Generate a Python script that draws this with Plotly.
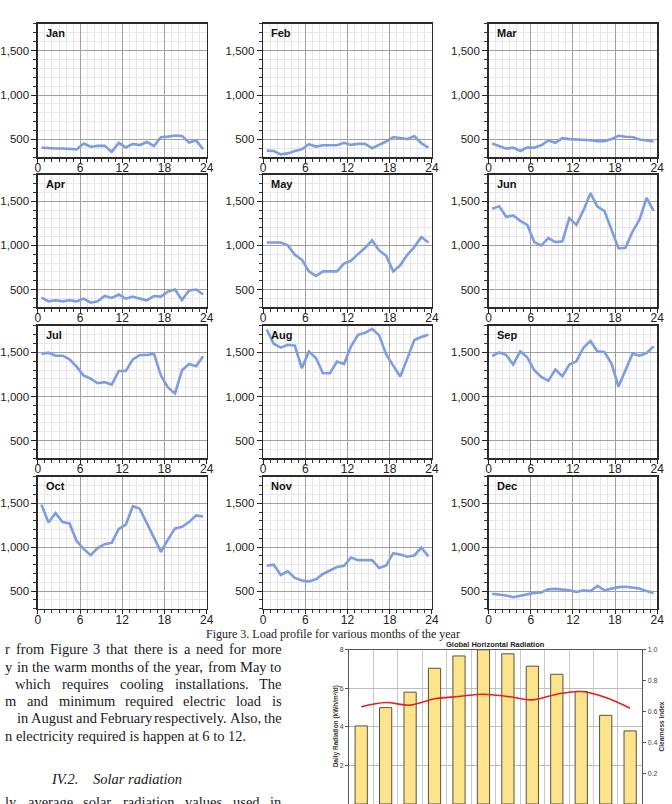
import plotly.graph_objects as go

# ---------------- data ----------------
months = ["Jan", "Feb", "Mar", "Apr", "May", "Jun", "Jul", "Aug", "Sep", "Oct", "Nov", "Dec"]
hours = [h + 0.5 for h in range(24)]

load_jan = [408, 400, 398, 398, 390, 388, 455, 418, 428, 428, 360, 462, 410, 450, 437, 472, 425, 525, 532, 545, 540, 465, 490, 390]
load_feb = [374, 370, 332, 343, 370, 389, 447, 420, 435, 435, 435, 462, 439, 450, 450, 401, 439, 477, 527, 515, 504, 538, 458, 408]
load_mar = [454, 424, 397, 408, 370, 408, 408, 435, 489, 462, 515, 504, 500, 504, 492, 481, 481, 504, 542, 531, 527, 500, 489, 477]
load_apr = [408, 366, 378, 366, 378, 366, 397, 351, 366, 427, 405, 443, 397, 420, 397, 378, 427, 420, 477, 500, 382, 489, 500, 443]
load_may = [1034, 1034, 1034, 1000, 893, 840, 706, 653, 706, 706, 706, 794, 828, 901, 973, 1057, 943, 882, 706, 775, 893, 981, 1095, 1034]
load_jun = [1416, 1443, 1324, 1340, 1279, 1233, 1038, 1000, 1084, 1038, 1046, 1309, 1233, 1397, 1592, 1439, 1389, 1179, 966, 974, 1157, 1294, 1538, 1393]
load_jul = [1481, 1496, 1462, 1462, 1421, 1338, 1237, 1203, 1150, 1162, 1135, 1289, 1289, 1421, 1470, 1470, 1485, 1237, 1102, 1034, 1297, 1368, 1342, 1455]
load_aug = [1759, 1598, 1553, 1586, 1575, 1320, 1511, 1436, 1263, 1263, 1395, 1368, 1568, 1699, 1722, 1767, 1692, 1477, 1350, 1226, 1429, 1639, 1673, 1699]
load_sep = [1459, 1500, 1470, 1361, 1511, 1444, 1297, 1222, 1177, 1305, 1229, 1361, 1398, 1553, 1628, 1511, 1504, 1372, 1113, 1297, 1485, 1462, 1492, 1568]
load_oct = [1485, 1282, 1387, 1286, 1271, 1071, 981, 910, 989, 1034, 1049, 1207, 1256, 1466, 1436, 1278, 1105, 947, 1086, 1214, 1233, 1286, 1361, 1350]
load_nov = [789, 801, 684, 726, 650, 620, 609, 635, 695, 733, 774, 789, 883, 853, 853, 853, 763, 793, 932, 917, 891, 906, 996, 895]
load_dec = [470, 460, 450, 430, 445, 460, 480, 485, 520, 525, 520, 510, 490, 510, 500, 560, 510, 530, 545, 550, 540, 530, 500, 480]
loads = [load_jan, load_feb, load_mar, load_apr, load_may, load_jun,
         load_jul, load_aug, load_sep, load_oct, load_nov, load_dec]

x_ticks = [0, 6, 12, 18, 24]
y_ticks = [500, 1000, 1500]

month_idx = list(range(1, 13))
radiation = [4.05, 5.0, 5.8, 7.04, 7.68, 8.0, 7.79, 7.15, 6.73, 5.84, 4.6, 3.79]
clearness = [0.630, 0.658, 0.641, 0.682, 0.697, 0.712, 0.697, 0.675, 0.712, 0.729, 0.690, 0.621]
rad_ticks = [0, 2, 4, 6, 8]
ci_ticks = [0, 0.2, 0.4, 0.6, 0.8, 1.0]

caption = "Figure 3. Load profile for various months of the year"
body_lines = [
    ("r from Figure 3 that there is a need for more", 0, 281, 648.5, True),
    ("y in the warm months of the year, from May to", 0, 281, 666, True),
    ("which requires cooling installations. The", 10, 281, 683.3, True),
    ("m and minimum required electric load is", 0, 281, 700.7, True),
    ("in August and February respectively. Also, the", 12, 281, 718, True),
    ("n electricity required is happen at 6 to 12.", 0, 281, 735.3, False),
    ("ly average solar radiation values used in", 0, 281, 802, True),
]

# ---------------- layout helpers ----------------
W, H = 672, 804
def px(x):
    return x / W
def py(y):
    return 1 - y / H

cols = [(34.5, 206), (263.5, 435), (492.7, 664)]
rows = [(20, 154), (171.7, 304.7), (323.5, 456.5), (475.3, 607.7)]

SANS = "Liberation Sans, Arial, sans-serif"
SERIF = "Liberation Serif, Times New Roman, serif"

fig = go.Figure()
layout = dict(width=W, height=H, margin=dict(l=0, r=0, t=0, b=0),
              paper_bgcolor="white", plot_bgcolor="white", showlegend=False)
annotations = []

for i, m in enumerate(months):
    n = i + 1
    sx = "" if n == 1 else str(n)
    fig.add_trace(go.Scatter(x=hours, y=loads[i], mode="lines",
                             line=dict(color="#7d9de3", width=2.6),
                             xaxis="x" + sx, yaxis="y" + sx, hoverinfo="skip"))
    c = cols[i % 3]
    r = rows[i // 3]
    layout["xaxis" + sx] = dict(
        domain=[px(c[0]), px(c[1])], range=[0, 24], anchor="y" + sx,
        tickvals=x_ticks, ticks="outside", ticklen=4, tickcolor="#222", tickwidth=1,
        ticklabelstandoff=-5,
        showline=True, linecolor="#2a2a2a", linewidth=1.5, mirror=True,
        showgrid=True, gridcolor="#a0a0a0", gridwidth=1, zeroline=False,
        minor=dict(dtick=1, showgrid=True, gridcolor="#e6e6ec", ticks="outside",
                   ticklen=3, tickcolor="#333"),
        tickfont=dict(family=SANS, size=12, color="#222"), fixedrange=True)
    layout["yaxis" + sx] = dict(
        domain=[py(r[1]), py(r[0])], range=[300, 1800], anchor="x" + sx,
        tickvals=y_ticks, tickformat=",", ticks="outside", ticklen=5, tickcolor="#222",
        showline=True, linecolor="#2a2a2a", linewidth=1.5, mirror=True,
        showgrid=True, gridcolor="#a0a0a0", gridwidth=1, zeroline=False,
        minor=dict(dtick=100, tick0=0, showgrid=True, gridcolor="#e6e6ec", ticks="outside",
                   ticklen=3, tickcolor="#333"),
        tickfont=dict(family=SANS, size=11.5, color="#222"), fixedrange=True)
    annotations.append(dict(text="<b>" + m + "</b>", xref="x" + sx + " domain", yref="y" + sx + " domain",
                            x=0.035, y=0.99, xanchor="left", yanchor="top", showarrow=False,
                            font=dict(family=SANS, size=11, color="#111")))

# ---------------- bar chart ----------------
fig.add_trace(go.Bar(x=month_idx, y=radiation, width=0.5, xaxis="x13", yaxis="y13",
                     marker=dict(color="#fde48c", line=dict(color="#5a5236", width=1)),
                     hoverinfo="skip"))
fig.add_trace(go.Scatter(x=month_idx, y=clearness, mode="lines", xaxis="x13", yaxis="y14",
                         line=dict(color="#e3201b", width=1.6, shape="spline"), hoverinfo="skip"))
bx0, bx1, by0, by1 = 350.7, 649, 649, 804
layout["xaxis13"] = dict(domain=[px(bx0), px(bx1)], range=[0.5, 12.5], anchor="y13",
                         tickvals=[k + 0.5 for k in month_idx[:-1]], showticklabels=False, ticks="",
                         showgrid=True, gridcolor="#c9c9c9", gridwidth=1, zeroline=False,
                         showline=True, linecolor="#555", linewidth=1, mirror=True, fixedrange=True)
layout["yaxis13"] = dict(domain=[py(by1), py(by0)], range=[0, 8], anchor="x13",
                         tickvals=rad_ticks, ticks="outside", ticklen=3, tickcolor="#555",
                         showgrid=True, gridcolor="#bdbdbd", gridwidth=1, zeroline=False,
                         showline=True, linecolor="#555", linewidth=1, mirror=True,
                         tickfont=dict(family=SANS, size=7, color="#444"), fixedrange=True)
layout["yaxis14"] = dict(overlaying="y13", side="right", range=[0, 1], anchor="x13",
                         tickvals=ci_ticks, tickformat=".1f", ticks="outside", ticklen=3,
                         tickcolor="#555", showgrid=False, zeroline=False,
                         showline=True, linecolor="#555", linewidth=1,
                         tickfont=dict(family=SANS, size=7, color="#444"), fixedrange=True)
layout["bargap"] = 0.5

annotations.append(dict(text="<b>Global Horizontal Radiation</b>", xref="paper", yref="paper",
                        x=px((bx0 + bx1) / 2), y=py(644), xanchor="center", yanchor="middle",
                        showarrow=False, font=dict(family=SANS, size=7.5, color="#222")))
annotations.append(dict(text="<b>Daily Radiation (kWh/m²/d)</b>", xref="paper", yref="paper",
                        x=px(337.5), y=py(726), xanchor="center", yanchor="middle", textangle=-90,
                        showarrow=False, font=dict(family=SANS, size=6.5, color="#333")))
annotations.append(dict(text="<b>Clearness Index</b>", xref="paper", yref="paper",
                        x=px(668), y=py(726), xanchor="center", yanchor="middle", textangle=-90,
                        showarrow=False, font=dict(family=SANS, size=6.5, color="#333")))

# ---------------- page text ----------------
annotations.append(dict(text=caption, xref="paper", yref="paper", x=px(334), y=py(633),
                        xanchor="center", yanchor="middle", showarrow=False,
                        font=dict(family=SERIF, size=12, color="#222")))

TW = {" ": 250, "a": 444, "b": 500, "c": 444, "d": 500, "e": 444, "f": 333, "g": 500, "h": 500,
      "i": 278, "j": 278, "k": 500, "l": 278, "m": 778, "n": 500, "o": 500, "p": 500, "q": 500,
      "r": 333, "s": 389, "t": 278, "u": 500, "v": 500, "w": 722, "x": 500, "y": 500, "z": 444,
      "A": 722, "F": 556, "M": 889, "T": 611, ".": 250, ",": 250}
def tw(s, size):
    return sum(TW.get(ch, 500) for ch in s) * size / 1000.0

BODY = 14.5
for text, L, R, yc, just in body_lines:
    if not just:
        annotations.append(dict(text=text, xref="paper", yref="paper", x=px(L), y=py(yc),
                                xanchor="left", yanchor="middle", showarrow=False, borderpad=0,
                                font=dict(family=SERIF, size=BODY, color="#1a1a1a")))
        continue
    words = text.split(" ")
    widths = [tw(w, BODY) for w in words]
    gap = (R - L - sum(widths)) / (len(words) - 1)
    xpos = L
    for w, wd in zip(words, widths):
        annotations.append(dict(text=w, xref="paper", yref="paper", x=px(xpos), y=py(yc),
                                xanchor="left", yanchor="middle", showarrow=False, borderpad=0,
                                font=dict(family=SERIF, size=BODY, color="#1a1a1a")))
        xpos += wd + gap

annotations.append(dict(text="<i>IV.2.</i>", xref="paper", yref="paper", x=px(47), y=py(779),
                        xanchor="left", yanchor="middle", showarrow=False, borderpad=0,
                        font=dict(family=SERIF, size=BODY, color="#1a1a1a")))
annotations.append(dict(text="<i>Solar radiation</i>", xref="paper", yref="paper", x=px(89), y=py(779),
                        xanchor="left", yanchor="middle", showarrow=False, borderpad=0,
                        font=dict(family=SERIF, size=BODY, color="#1a1a1a")))

layout["annotations"] = annotations
fig.update_layout(**layout)
fig.write_html("out.html", config={"displayModeBar": False, "staticPlot": True})
